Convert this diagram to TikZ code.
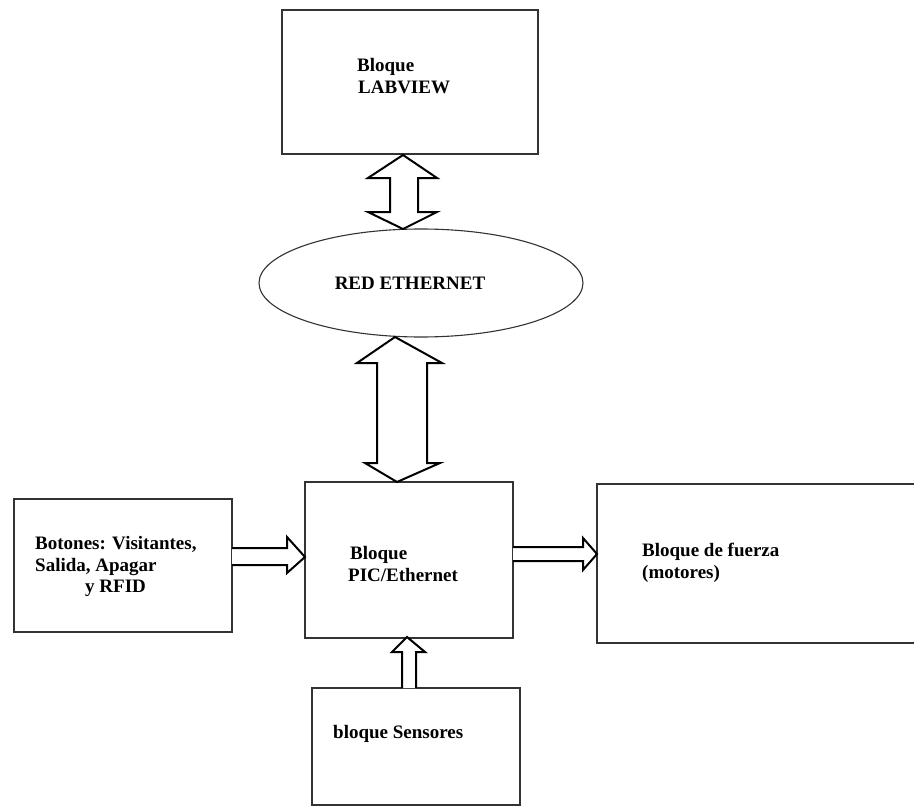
\documentclass[tikz,border=0pt]{standalone}
\usepackage{fontspec}
\setmainfont{Liberation Serif}[BoldFont={Liberation Serif Bold}]
\usetikzlibrary{shapes.geometric}
\begin{document}
\begin{tikzpicture}[x=1pt,y=-1pt,
  box/.style={draw=black!80, line width=1.3pt, rectangle, inner sep=0pt},
  ell/.style={draw=black!80, line width=1.1pt, ellipse, inner sep=0pt},
  blockarrow/.style={draw=black, line width=2pt, fill=white, line join=miter},
  lbl/.style={anchor=base west, inner sep=0pt, font=\fontsize{19}{22}\selectfont\bfseries}]
\useasboundingbox (0,0) rectangle (914,808);
\begin{scope}
\clip (0,0) rectangle (914,808);
% boxes
\node[box, minimum width=256pt, minimum height=144pt] (lab) at (410,82) {};
\node[ell, minimum width=324pt, minimum height=108pt] (eth) at (421,283) {};
\node[box, minimum width=208pt, minimum height=156pt] (pic) at (409,560) {};
\node[box, minimum width=218pt, minimum height=133pt] (bot) at (123,565.5) {};
\node[box, minimum width=330pt, minimum height=159pt] (fue) at (762,563.5) {};
\node[box, minimum width=208pt, minimum height=117pt] (sen) at (416,746.5) {};
% texts
\node[lbl] (t1) at (357,72) {Bloque};
\node[lbl] (t2) at (358,94) {LABVIEW};
\node[lbl, anchor=base] (t3) at (410,289) {RED ETHERNET};
\node[lbl] (t4) at (350,559) {Bloque};
\node[lbl] (t5) at (348,581) {PIC/Ethernet};
\node[lbl] (t6) at (35,549) {Botones: Visitantes,};
\node[lbl] (t7) at (35,571) {Salida, Apagar};
\node[lbl] (t8) at (85,592) {y RFID};
\node[lbl] (t9) at (642,556) {Bloque de fuerza};
\node[lbl] (t10) at (642,578) {(motores)};
\node[lbl] (t11) at (333,738) {bloque Sensores};
\end{scope}
% block arrows
\draw[blockarrow] (403,155) -- (437,178) -- (418,178) -- (418,212) -- (437,212) -- (403,229)
  -- (368,212) -- (390,212) -- (390,178) -- (368,178) -- cycle;
\draw[blockarrow] (395,337) -- (442,363) -- (427,363) -- (427,463) -- (440,463) -- (397,482)
  -- (365,463) -- (377,463) -- (377,363) -- (357,363) -- cycle;
\draw[blockarrow] (232,548) -- (287,548) -- (287,537) -- (305,557) -- (287,573) -- (287,565) -- (232,565);
\draw[blockarrow] (513,547) -- (583,547) -- (583,538) -- (597,554) -- (583,570) -- (583,561) -- (513,561);
\draw[blockarrow] (402,688) -- (402,652) -- (392,652) -- (407,637) -- (425,652) -- (416,652) -- (416,688);
\end{tikzpicture}
\end{document}
